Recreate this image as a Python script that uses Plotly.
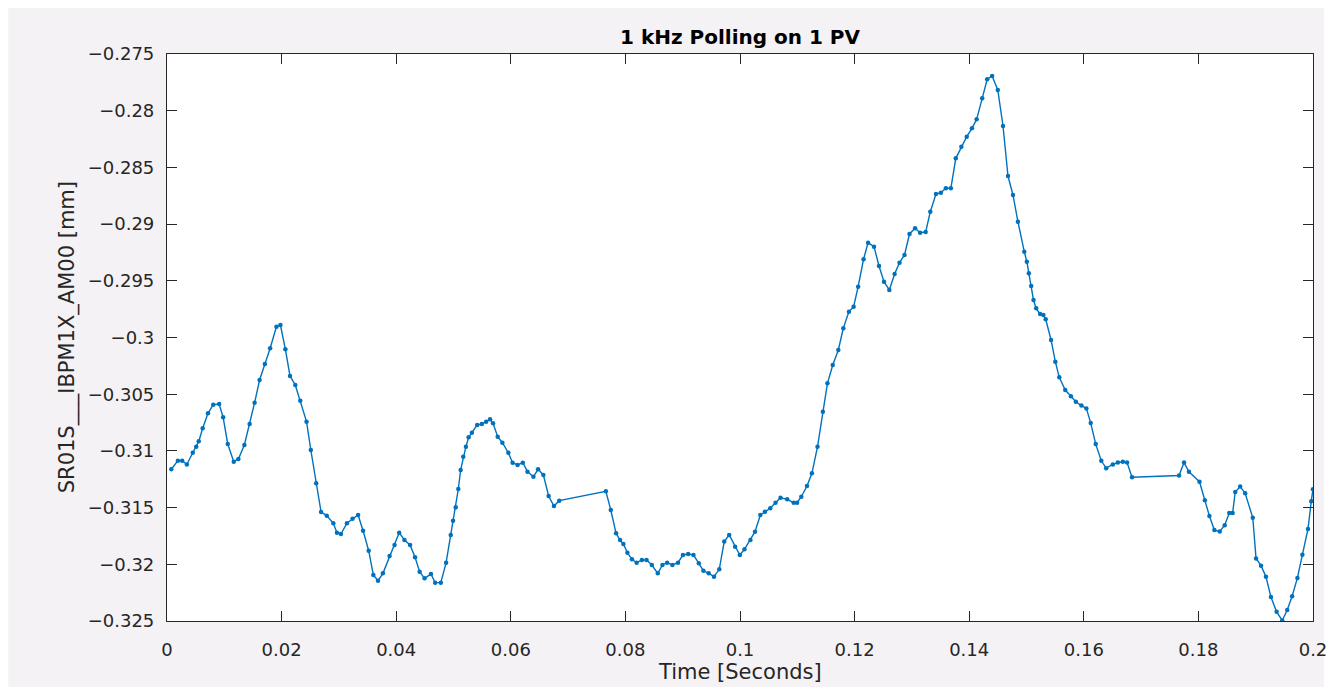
import plotly.graph_objects as go

# Sample times [s] and beam position readings [mm]
time_s = [
    0.00075, 0.00190, 0.00265, 0.00346, 0.00450, 0.00510, 0.00554, 0.00623, 0.00715, 0.00807,
    0.00910, 0.00980, 0.01060, 0.01165, 0.01246, 0.01350, 0.01442, 0.01529, 0.01616, 0.01708,
    0.01800, 0.01910, 0.01980, 0.02066, 0.02147, 0.02239, 0.02326, 0.02435, 0.02510, 0.02603,
    0.02689, 0.02788, 0.02903, 0.02966, 0.03036, 0.03140, 0.03238, 0.03335, 0.03422, 0.03520,
    0.03601, 0.03682, 0.03768, 0.03884, 0.03971, 0.04052, 0.04144, 0.04242, 0.04329, 0.04409,
    0.04495, 0.04606, 0.04680, 0.04779, 0.04871, 0.04952, 0.04992, 0.05039, 0.05084, 0.05125,
    0.05170, 0.05217, 0.05264, 0.05321, 0.05413, 0.05494, 0.05569, 0.05638, 0.05690, 0.05771,
    0.05853, 0.05957, 0.06031, 0.06118, 0.06210, 0.06291, 0.06395, 0.06476, 0.06568, 0.06660,
    0.06753, 0.06845, 0.07659, 0.07745, 0.07837, 0.07907, 0.07965, 0.08035, 0.08114, 0.08196,
    0.08288, 0.08369, 0.08461, 0.08565, 0.08646, 0.08728, 0.08820, 0.08918, 0.09004, 0.09096,
    0.09188, 0.09281, 0.09361, 0.09454, 0.09546, 0.09638, 0.09725, 0.09811, 0.09915, 0.09997,
    0.10078, 0.10182, 0.10262, 0.10355, 0.10435, 0.10528, 0.10620, 0.10707, 0.10823, 0.10937,
    0.10996, 0.11070, 0.11169, 0.11255, 0.11353, 0.11446, 0.11526, 0.11619, 0.11716, 0.11803,
    0.11901, 0.11983, 0.12062, 0.12156, 0.12235, 0.12339, 0.12426, 0.12513, 0.12606, 0.12698,
    0.12784, 0.12871, 0.12958, 0.13056, 0.13143, 0.13240, 0.13321, 0.13420, 0.13506, 0.13593,
    0.13680, 0.13766, 0.13863, 0.13957, 0.14048, 0.14130, 0.14227, 0.14314, 0.14400, 0.14499,
    0.14590, 0.14677, 0.14764, 0.14850, 0.14961, 0.15006, 0.15041, 0.15082, 0.15122, 0.15169,
    0.15238, 0.15295, 0.15335, 0.15429, 0.15503, 0.15572, 0.15676, 0.15775, 0.15861, 0.15958,
    0.16045, 0.16121, 0.16208, 0.16305, 0.16391, 0.16507, 0.16594, 0.16681, 0.16755, 0.16842,
    0.17662, 0.17749, 0.17835, 0.18019, 0.18113, 0.18192, 0.18279, 0.18372, 0.18459, 0.18539,
    0.18597, 0.18643, 0.18729, 0.18816, 0.18949, 0.19006, 0.19093, 0.19179, 0.19266, 0.19365,
    0.19463, 0.19550, 0.19636, 0.19728, 0.19815, 0.19913, 0.19970, 0.19999,
]
position_mm = [
    -0.31162, -0.31086, -0.31086, -0.31120, -0.31016, -0.30963, -0.30916, -0.30801, -0.30669, -0.30593,
    -0.30586, -0.30704, -0.30939, -0.31095, -0.31071, -0.30948, -0.30763, -0.30575, -0.30375, -0.30234,
    -0.30095, -0.29905, -0.29890, -0.30104, -0.30339, -0.30419, -0.30557, -0.30742, -0.30992, -0.31286,
    -0.31539, -0.31571, -0.31638, -0.31721, -0.31733, -0.31638, -0.31598, -0.31565, -0.31704, -0.31880,
    -0.32094, -0.32145, -0.32080, -0.31927, -0.31830, -0.31721, -0.31786, -0.31830, -0.31938, -0.32065,
    -0.32124, -0.32086, -0.32162, -0.32162, -0.31986, -0.31742, -0.31615, -0.31498, -0.31336, -0.31168,
    -0.31051, -0.30963, -0.30880, -0.30839, -0.30772, -0.30763, -0.30742, -0.30722, -0.30756, -0.30875,
    -0.30928, -0.31016, -0.31104, -0.31124, -0.31104, -0.31183, -0.31228, -0.31162, -0.31212, -0.31398,
    -0.31486, -0.31439, -0.31356, -0.31521, -0.31727, -0.31786, -0.31821, -0.31898, -0.31956, -0.31986,
    -0.31962, -0.31962, -0.32006, -0.32080, -0.32006, -0.31986, -0.32006, -0.31986, -0.31918, -0.31909,
    -0.31918, -0.31991, -0.32056, -0.32080, -0.32109, -0.32044, -0.31800, -0.31741, -0.31845, -0.31918,
    -0.31868, -0.31786, -0.31712, -0.31565, -0.31536, -0.31506, -0.31457, -0.31413, -0.31427, -0.31457,
    -0.31457, -0.31404, -0.31310, -0.31198, -0.30963, -0.30654, -0.30404, -0.30243, -0.30110, -0.29919,
    -0.29772, -0.29728, -0.29552, -0.29310, -0.29164, -0.29199, -0.29369, -0.29508, -0.29581, -0.29440,
    -0.29340, -0.29272, -0.29087, -0.29037, -0.29076, -0.29070, -0.28891, -0.28735, -0.28723, -0.28684,
    -0.28684, -0.28420, -0.28317, -0.28229, -0.28155, -0.28076, -0.27891, -0.27723, -0.27694, -0.27817,
    -0.28135, -0.28576, -0.28743, -0.28979, -0.29243, -0.29332, -0.29434, -0.29546, -0.29669, -0.29743,
    -0.29793, -0.29802, -0.29840, -0.30022, -0.30213, -0.30351, -0.30463, -0.30518, -0.30567, -0.30600,
    -0.30625, -0.30755, -0.30940, -0.31087, -0.31152, -0.31119, -0.31103, -0.31096, -0.31103, -0.31233,
    -0.31217, -0.31103, -0.31184, -0.31272, -0.31435, -0.31574, -0.31698, -0.31711, -0.31655, -0.31548,
    -0.31548, -0.31362, -0.31314, -0.31373, -0.31590, -0.31948, -0.32012, -0.32110, -0.32289, -0.32419,
    -0.32495, -0.32403, -0.32282, -0.32120, -0.31915, -0.31688, -0.31443, -0.31339,
]

x_tick_vals = [0, 0.02, 0.04, 0.06, 0.08, 0.1, 0.12, 0.14, 0.16, 0.18, 0.2]
x_tick_text = ["0", "0.02", "0.04", "0.06", "0.08", "0.1", "0.12", "0.14", "0.16", "0.18", "0.2"]
y_tick_vals = [-0.325, -0.32, -0.315, -0.31, -0.305, -0.3, -0.295, -0.29, -0.285, -0.28, -0.275]
y_tick_text = ["\u22120.325", "\u22120.32", "\u22120.315", "\u22120.31", "\u22120.305", "\u22120.3",
               "\u22120.295", "\u22120.29", "\u22120.285", "\u22120.28", "\u22120.275"]

title_text = "1 kHz Polling on 1 PV"
x_label = "Time [Seconds]"
y_label = "SR01S___IBPM1X_AM00 [mm]"

W, H = 1339, 687
ML, MR, MT, MB = 167, 17, 54, 66
PW, PH = W - ML - MR, H - MT - MB

AXIS_COLOR = "#262626"
LINE_COLOR = "#0072BD"
FIG_BG = "#f5f2f5"
FONT = "DejaVu Sans"


def px_x(p):
    return (p - ML) / PW


def px_y(p):
    return (H - MB - p) / PH


fig = go.Figure(
    go.Scatter(
        x=time_s,
        y=position_mm,
        mode="lines+markers",
        line=dict(color=LINE_COLOR, width=1.4),
        marker=dict(color=LINE_COLOR, size=4.5),
        cliponaxis=True,
        showlegend=False,
    )
)

axis_common = dict(
    showline=True,
    linecolor=AXIS_COLOR,
    linewidth=1.2,
    mirror="ticks",
    ticks="inside",
    ticklen=10,
    tickwidth=1.2,
    tickcolor=AXIS_COLOR,
    showgrid=False,
    zeroline=False,
    tickfont=dict(family=FONT, size=18, color=AXIS_COLOR),
)

fig.update_xaxes(range=[0, 0.2], tickvals=x_tick_vals, ticktext=x_tick_text,
                 ticklabelstandoff=12, **axis_common)
fig.update_yaxes(range=[-0.325, -0.275], tickvals=y_tick_vals, ticktext=y_tick_text,
                 ticklabelstandoff=8, **axis_common)

fig.update_layout(
    width=W,
    height=H,
    margin=dict(l=ML, r=MR, t=MT, b=MB, pad=0),
    paper_bgcolor="white",
    plot_bgcolor="white",
    shapes=[
        dict(type="rect", xref="paper", yref="paper", layer="below",
             x0=px_x(7), x1=px_x(1333), y0=px_y(H + 5), y1=px_y(8),
             fillcolor=FIG_BG, line=dict(width=0)),
        dict(type="rect", xref="paper", yref="paper", layer="below",
             x0=0, x1=1, y0=0, y1=1, fillcolor="white", line=dict(width=0)),
    ],
    title=dict(
        text=title_text,
        x=0.5, xref="paper", xanchor="center",
        y=1 - 37 / H, yref="container", yanchor="middle",
        font=dict(family=FONT, size=20, color="black", weight="bold"),
    ),
    annotations=[
        dict(text=x_label, xref="paper", yref="paper", x=0.5, y=px_y(672),
             xanchor="center", yanchor="middle", showarrow=False,
             font=dict(family=FONT, size=21, color=AXIS_COLOR)),
        dict(text=y_label, xref="paper", yref="paper", x=px_x(67), y=0.5,
             xanchor="center", yanchor="middle", showarrow=False, textangle=-90,
             font=dict(family=FONT, size=21, color=AXIS_COLOR)),
    ],
)

fig.write_html("out.html")
